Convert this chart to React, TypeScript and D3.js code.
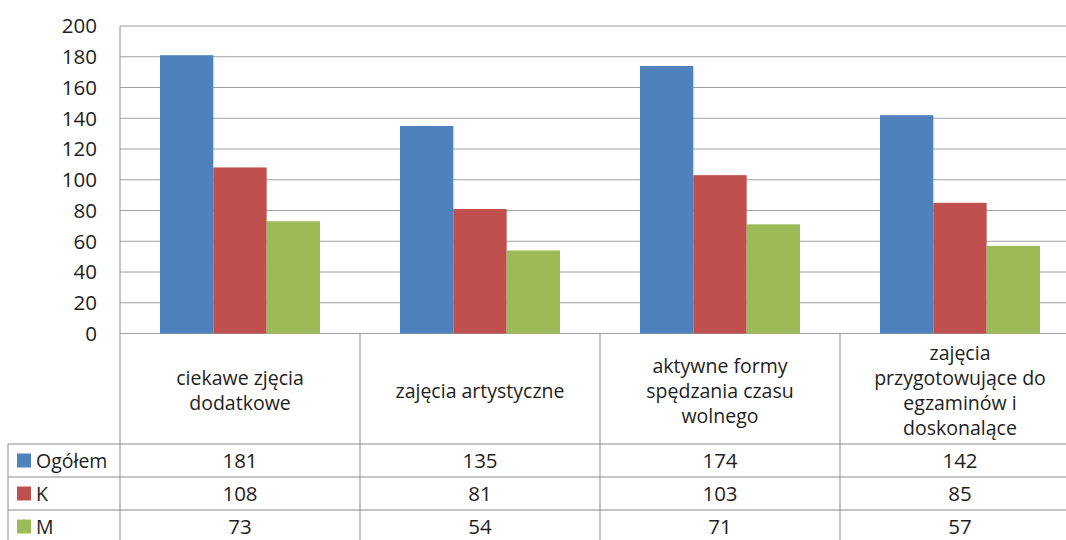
import React from "react";
import * as d3 from "d3";

const categories: string[][] = [
  ["ciekawe zjęcia", "dodatkowe"],
  ["zajęcia artystyczne"],
  ["aktywne formy", "spędzania czasu", "wolnego"],
  ["zajęcia", "przygotowujące do", "egzaminów i", "doskonalące"],
];
const seriesNames = ["Ogółem", "K", "M"];
const ogolem = [181, 135, 174, 142];
const kobiety = [108, 81, 103, 85];
const mezczyzni = [73, 54, 71, 57];
const seriesValues = [ogolem, kobiety, mezczyzni];
const colors = ["#4F81BD", "#C0504D", "#9BBB59"];
const yTicks = [0, 20, 40, 60, 80, 100, 120, 140, 160, 180, 200];

const W = 1066;
const H = 540;
const left = 120;
const catW = 240;
const top = 26;
const bottom = 333.5;
const headerBottom = 444;
const rowH = 33;
const tableLeft = 8;
const font = "'Open Sans', sans-serif";
const fs = 19.5;
const fsNum = 20.5;
const textColor = "#1e1e1e";
const gridColor = "#a0a0a0";
const tableColor = "#8c8c8c";

export default function App() {
  const idx = categories.map((_, i) => String(i));
  const x = d3.scaleBand<string>().domain(idx).range([left, left + catW * categories.length]).padding(0);
  const xi = d3
    .scaleBand<string>()
    .domain(seriesNames)
    .range([0, x.bandwidth()])
    .paddingInner(0)
    .paddingOuter(0.75);
  const y = d3.scaleLinear().domain([0, 200]).range([bottom, top]);

  const colEdges = idx.map((k) => x(k) as number).concat([left + catW * categories.length]);

  return (
    <svg
      width={W}
      height={H}
      style={{ position: "absolute", left: 0, top: 0, background: "#fff" }}
      fontFamily={font}
    >
      <rect x={0} y={0} width={W} height={H} fill="#fff" />
      {/* gridlines */}
      {yTicks.map((t) => (
        <line key={t} x1={left} x2={W + 20} y1={y(t)} y2={y(t)} stroke={gridColor} strokeWidth={1} />
      ))}
      {yTicks.map((t) => (
        <text key={"l" + t} x={97} y={y(t)} dy="0.36em" textAnchor="end" fontSize={fsNum} fill={textColor}>
          {t}
        </text>
      ))}
      {/* bars */}
      {seriesValues.map((vals, s) =>
        vals.map((v, c) => (
          <rect
            key={s + "-" + c}
            x={(x(String(c)) as number) + (xi(seriesNames[s]) as number)}
            y={y(v)}
            width={xi.bandwidth()}
            height={y(0) - y(v)}
            fill={colors[s]}
          />
        ))
      )}
      {/* table vertical lines */}
      <line x1={left} x2={left} y1={top} y2={H} stroke={tableColor} />
      {colEdges.slice(1).map((e, i) => (
        <line key={"v" + i} x1={e} x2={e} y1={bottom} y2={H} stroke={tableColor} />
      ))}
      <line x1={tableLeft} x2={tableLeft} y1={headerBottom} y2={H} stroke={tableColor} />
      {/* table horizontal lines */}
      {[0, 1, 2, 3].map((r) => (
        <line
          key={"h" + r}
          x1={tableLeft}
          x2={W + 20}
          y1={headerBottom + r * rowH}
          y2={headerBottom + r * rowH}
          stroke={tableColor}
        />
      ))}
      {/* category headers */}
      {categories.map((lines, c) => {
        const cx = (x(String(c)) as number) + x.bandwidth() / 2;
        const cy = (bottom + headerBottom) / 2 + 2;
        const lh = 25;
        return (
          <text key={"c" + c} x={cx} textAnchor="middle" fontSize={fs} fill={textColor}>
            {lines.map((ln, i) => (
              <tspan key={i} x={cx} y={cy + (i - (lines.length - 1) / 2) * lh} dy="0.36em">
                {ln}
              </tspan>
            ))}
          </text>
        );
      })}
      {/* legend rows and values */}
      {seriesNames.map((name, s) => {
        const cy = headerBottom + s * rowH + rowH / 2;
        return (
          <g key={"r" + s}>
            <rect x={17} y={cy - 7} width={14} height={14} fill={colors[s]} />
            <text x={36} y={cy} dy="0.36em" fontSize={fs} fill={textColor}>
              {name}
            </text>
            {seriesValues[s].map((v, c) => (
              <text
                key={c}
                x={(x(String(c)) as number) + x.bandwidth() / 2}
                y={cy}
                dy="0.36em"
                textAnchor="middle"
                fontSize={fsNum}
                fill={textColor}
              >
                {v}
              </text>
            ))}
          </g>
        );
      })}
    </svg>
  );
}
